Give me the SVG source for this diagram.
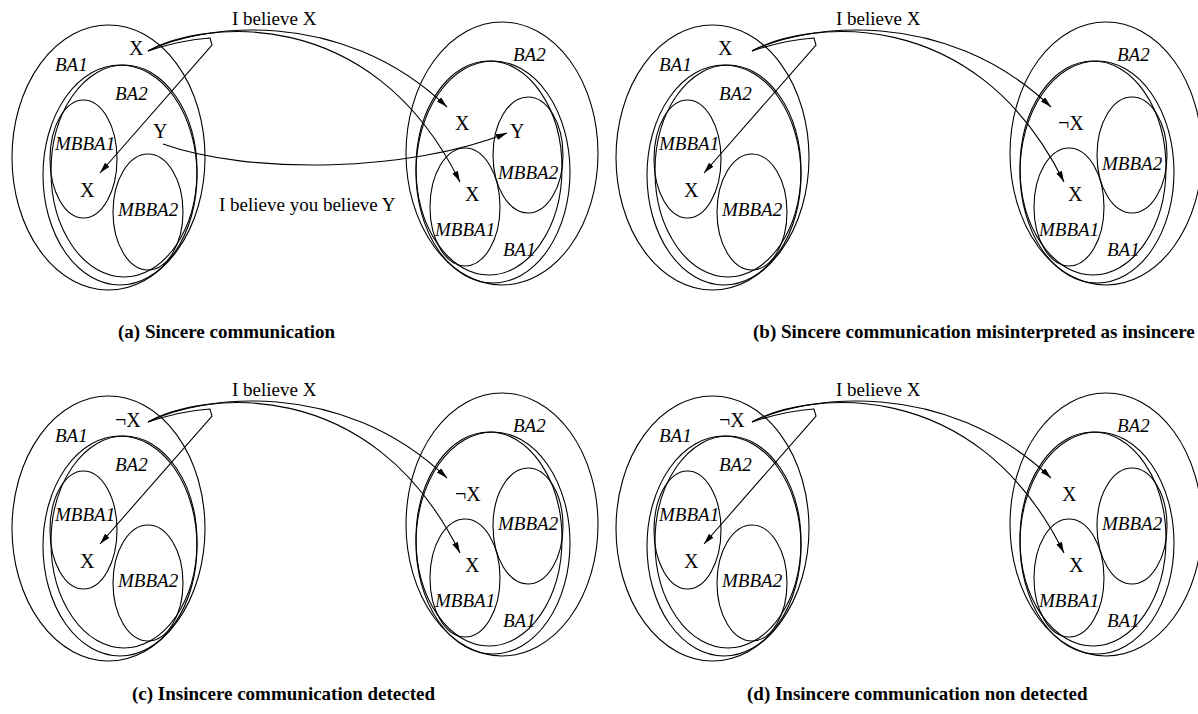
<svg xmlns="http://www.w3.org/2000/svg" xmlns:xlink="http://www.w3.org/1999/xlink" width="1198" height="714" viewBox="0 0 1198 714">
  <style>
    .set { fill: none; stroke: #000; stroke-width: 1.1; }
    .lbl { font-family: "Liberation Serif", "Times New Roman", serif; font-size: 19px; font-style: italic; fill: #000; }
    .sym { font-family: "Liberation Serif", "Times New Roman", serif; font-size: 20px; fill: #000; }
    .msg { font-family: "Liberation Serif", "Times New Roman", serif; font-size: 19px; fill: #000; }
    .cap { font-family: "Liberation Serif", "Times New Roman", serif; font-size: 19px; font-weight: bold; fill: #000; }
    .con { fill: none; stroke: #000; stroke-width: 1.1; }
  </style>
  <defs>
    <marker id="arr" markerUnits="userSpaceOnUse" markerWidth="12" markerHeight="7" refX="11" refY="3" orient="auto">
      <path d="M0,0 L11,3 L0,6 z" fill="#000"/>
    </marker>
    <!-- belief sets of the speaking agent -->
    <g id="speakerSets" class="set">
      <ellipse cx="108.5" cy="157.5" rx="96.5" ry="132.5"/>
      <ellipse cx="120" cy="175" rx="77" ry="110"/>
      <ellipse cx="124" cy="171" rx="73" ry="106"/>
      <ellipse cx="83.5" cy="159" rx="33.5" ry="59"/>
      <ellipse cx="148" cy="212" rx="35" ry="58"/>
    </g>
    <!-- belief sets of the listening agent -->
    <g id="hearerSets" class="set">
      <ellipse cx="502" cy="153.5" rx="96" ry="131.5"/>
      <ellipse cx="493" cy="172" rx="77" ry="111"/>
      <ellipse cx="489" cy="168" rx="73" ry="107"/>
      <ellipse cx="528" cy="155" rx="35" ry="58"/>
      <ellipse cx="465" cy="207" rx="35" ry="59"/>
    </g>
  </defs>

  <!-- (a) -->
  <g id="panel-a">
    <g id="a-agent1">
      <use xlink:href="#speakerSets"/>
      <text class="lbl" x="55" y="71">BA1</text>
      <text class="lbl" x="115" y="100">BA2</text>
      <text class="lbl" x="55" y="150">MBBA1</text>
      <text class="lbl" x="118" y="216">MBBA2</text>
      <text class="sym" x="129" y="55">X</text>
      <text class="sym" x="153" y="138">Y</text>
      <text class="sym" x="80" y="197">X</text>
    </g>
    <g id="a-agent2">
      <use xlink:href="#hearerSets"/>
      <text class="lbl" x="513" y="61">BA2</text>
      <text class="lbl" x="498" y="179">MBBA2</text>
      <text class="lbl" x="435" y="236">MBBA1</text>
      <text class="lbl" x="503" y="256">BA1</text>
      <text class="sym" x="455" y="130">X</text>
      <text class="sym" x="510" y="138">Y</text>
      <text class="sym" x="465" y="201">X</text>
    </g>
    <text class="msg" x="232" y="25">I believe X</text>
    <text class="msg" x="219" y="211">I believe you believe Y</text>
    <text class="cap" x="118" y="338">(a) Sincere communication</text>
  </g>

  <!-- (b) -->
  <g id="panel-b">
    <g id="b-agent1" transform="translate(604,0)">
      <use xlink:href="#speakerSets"/>
      <text class="lbl" x="55" y="71">BA1</text>
      <text class="lbl" x="115" y="100">BA2</text>
      <text class="lbl" x="55" y="150">MBBA1</text>
      <text class="lbl" x="118" y="216">MBBA2</text>
      <text class="sym" x="114" y="55">X</text>
      <text class="sym" x="80" y="197">X</text>
    </g>
    <g id="b-agent2" transform="translate(604,0)">
      <use xlink:href="#hearerSets"/>
      <text class="lbl" x="513" y="61">BA2</text>
      <text class="lbl" x="498" y="170">MBBA2</text>
      <text class="lbl" x="435" y="236">MBBA1</text>
      <text class="lbl" x="503" y="256">BA1</text>
      <text class="sym" x="454" y="130">¬X</text>
      <text class="sym" x="464" y="201">X</text>
    </g>
    <text class="msg" x="836" y="25">I believe X</text>
    <text class="cap" x="753" y="338">(b) Sincere communication misinterpreted as insincere</text>
  </g>

  <!-- (c) -->
  <g id="panel-c">
    <g id="c-agent1" transform="translate(0,371)">
      <use xlink:href="#speakerSets"/>
      <text class="lbl" x="55" y="71">BA1</text>
      <text class="lbl" x="115" y="100">BA2</text>
      <text class="lbl" x="55" y="150">MBBA1</text>
      <text class="lbl" x="118" y="216">MBBA2</text>
      <text class="sym" x="115" y="56">¬X</text>
      <text class="sym" x="80" y="197">X</text>
    </g>
    <g id="c-agent2" transform="translate(0,371)">
      <use xlink:href="#hearerSets"/>
      <text class="lbl" x="513" y="61">BA2</text>
      <text class="lbl" x="498" y="159">MBBA2</text>
      <text class="lbl" x="435" y="236">MBBA1</text>
      <text class="lbl" x="503" y="256">BA1</text>
      <text class="sym" x="455" y="130">¬X</text>
      <text class="sym" x="465" y="201">X</text>
    </g>
    <text class="msg" x="232" y="396">I believe X</text>
    <text class="cap" x="132" y="700">(c) Insincere communication detected</text>
  </g>

  <!-- (d) -->
  <g id="panel-d">
    <g id="d-agent1" transform="translate(604,371)">
      <use xlink:href="#speakerSets"/>
      <text class="lbl" x="55" y="71">BA1</text>
      <text class="lbl" x="115" y="100">BA2</text>
      <text class="lbl" x="55" y="150">MBBA1</text>
      <text class="lbl" x="118" y="216">MBBA2</text>
      <text class="sym" x="115" y="56">¬X</text>
      <text class="sym" x="80" y="197">X</text>
    </g>
    <g id="d-agent2" transform="translate(604,371)">
      <use xlink:href="#hearerSets"/>
      <text class="lbl" x="513" y="61">BA2</text>
      <text class="lbl" x="498" y="159">MBBA2</text>
      <text class="lbl" x="435" y="236">MBBA1</text>
      <text class="lbl" x="503" y="256">BA1</text>
      <text class="sym" x="458" y="130">X</text>
      <text class="sym" x="465" y="201">X</text>
    </g>
    <text class="msg" x="836" y="396">I believe X</text>
    <text class="cap" x="747" y="700">(d) Insincere communication non detected</text>
  </g>

  <!-- message arrows -->
  <g id="connectors" class="con">
    <g id="con-a">
      <path marker-end="url(#arr)" d="M148,51 C175,42 195,39 210,38 L212,45 L100,173"/>
      <path marker-end="url(#arr)" d="M148,51 C200,25 340,5 447,107"/>
      <path marker-end="url(#arr)" d="M148,51 C200,22 370,0 460,182"/>
      <path marker-end="url(#arr)" d="M163,144 C250,175 410,172 507,133"/>
    </g>
    <g id="con-b" transform="translate(604,0)">
      <path marker-end="url(#arr)" d="M148,51 C175,42 195,39 210,38 L212,45 L100,173"/>
      <path marker-end="url(#arr)" d="M148,51 C200,25 340,5 447,107"/>
      <path marker-end="url(#arr)" d="M148,51 C200,22 370,0 460,182"/>
    </g>
    <g id="con-c" transform="translate(0,371)">
      <path marker-end="url(#arr)" d="M148,51 C175,42 195,39 210,38 L212,45 L100,173"/>
      <path marker-end="url(#arr)" d="M148,51 C200,25 340,5 447,107"/>
      <path marker-end="url(#arr)" d="M148,51 C200,22 370,0 460,182"/>
    </g>
    <g id="con-d" transform="translate(604,371)">
      <path marker-end="url(#arr)" d="M148,51 C175,42 195,39 210,38 L212,45 L100,173"/>
      <path marker-end="url(#arr)" d="M148,51 C200,25 340,5 447,107"/>
      <path marker-end="url(#arr)" d="M148,51 C200,22 370,0 460,182"/>
    </g>
  </g>
</svg>
